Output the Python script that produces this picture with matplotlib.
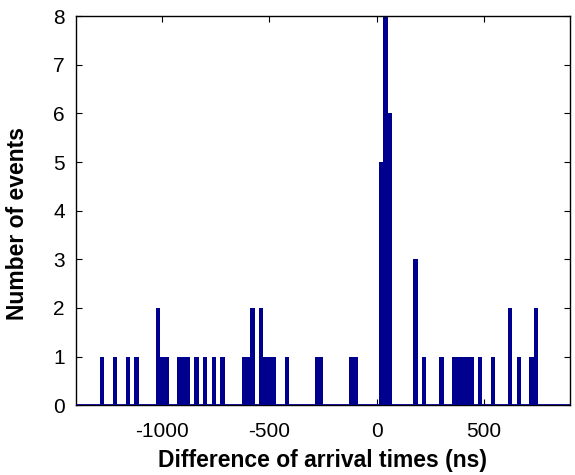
import matplotlib
matplotlib.use("Agg")
import matplotlib.pyplot as plt

# histogram of arrival time differences, 20 ns bins (only non-empty bins listed)
bin_centers = [-1278, -1218, -1158, -1118, -1018, -998, -978, -918, -898, -878,
               -838, -798, -758, -718, -618, -598, -578, -538, -518, -498,
               -478, -418, -278, -258, -118, -98, 22, 42, 62, 182,
               222, 302, 362, 382, 402, 422, 442, 482, 542, 622,
               662, 722, 742]
counts = [1, 1, 1, 1, 2, 1, 1, 1, 1, 1,
          1, 1, 1, 1, 1, 1, 2, 2, 1, 1,
          1, 1, 1, 1, 1, 1, 5, 8, 6, 3,
          1, 1, 1, 1, 1, 1, 1, 1, 1, 2,
          1, 1, 2]
bin_width = 20
xticks = [-1000, -500, 0, 500]
yticks = [0, 1, 2, 3, 4, 5, 6, 7, 8]

plt.rcParams['font.family'] = ['Liberation Sans', 'DejaVu Sans']
plt.rcParams['axes.unicode_minus'] = False

navy = '#00008f'

fig = plt.figure(figsize=(5.75, 4.75), dpi=100)
ax = fig.add_axes([0.132, 0.147, 0.859, 0.819])

ax.bar(bin_centers, counts, width=bin_width, color=navy, linewidth=0,
       antialiased=False, zorder=2)
ax.axhline(0, color=navy, linewidth=2, zorder=3)

ax.set_xlim(-1400, 900)
ax.set_ylim(0, 8)
ax.set_xticks(xticks)
ax.set_yticks(yticks)
ax.tick_params(direction='in', top=True, right=True, length=4, width=0.8,
               labelsize=15)
ax.tick_params(axis='x', pad=12)
ax.tick_params(axis='y', pad=8)
for s in ax.spines.values():
    s.set_linewidth(1)

ax.set_xlabel('Difference of arrival times (ns)', fontsize=16.5, fontweight='bold',
              labelpad=6)
ax.set_ylabel('Number of events', fontsize=16.5, fontweight='bold')
ax.yaxis.set_label_coords(-0.094, 0.467)

fig.savefig('out.png', dpi=100)
